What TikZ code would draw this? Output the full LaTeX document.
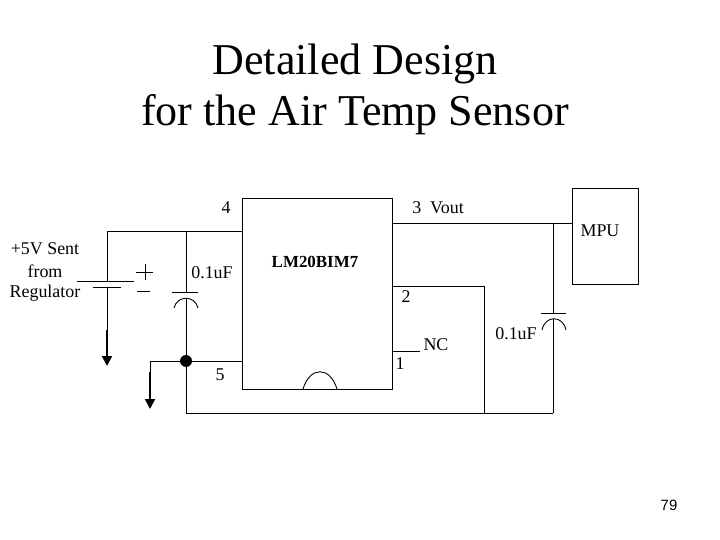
\documentclass[tikz,border=0pt]{standalone}
\usepackage{fontspec}
\setmainfont{Liberation Serif}
\newfontfamily\pagefont{Liberation Sans}
\usetikzlibrary{arrows.meta}
\tikzset{
  lbl/.style={inner sep=0pt,font=\fontsize{18}{20}\selectfont},
  ttl/.style={inner sep=0pt,anchor=base,font=\fontsize{44.2}{50}\selectfont},
  chip/.style={draw,line width=0.9pt,inner sep=0pt},
  wire/.style={line width=0.9pt},
  gnd/.style={line width=2pt,-{Triangle[length=10bp,width=10bp]}}
}
\begin{document}
\begin{tikzpicture}[x=1bp,y=-1bp]
\useasboundingbox (0,0) rectangle (720,540);
\node[ttl] at (355,75) (title1) {Detailed Design};
\node[ttl] at (355,126) (title2) {for the Air Temp Sensor};
\node[chip,minimum width=150bp,minimum height=191bp] at (317.5,293.5) (ic) {};
\node[chip,minimum width=66bp,minimum height=96bp] at (605,236) (mpu) {};
\node[lbl] at (226,208) (p4) {4};
\node[lbl] at (438,208) (p3) {3\ \ Vout};
\node[lbl] at (406,297) (p2) {2};
\node[lbl] at (400,364) (p1) {1};
\node[lbl] at (220,375) (p5) {5};
\node[lbl] at (436,345) (nc) {NC};
\node[lbl] at (600,231) (mpulbl) {MPU};
\node[lbl,font=\fontsize{17}{20}\selectfont\bfseries] at (315,262) (iclbl) {LM20BIM7};
\node[lbl] at (45,249) (src1) {+5V Sent};
\node[lbl] at (45,271) (src2) {from};
\node[lbl] at (45,293) (src3) {Regulator};
\node[lbl] at (212,273) (c1lbl) {0.1uF};
\node[lbl] at (516,334) (c2lbl) {0.1uF};
\node[inner sep=0pt,font=\pagefont\fontsize{15}{17}\selectfont] at (669,505) (pagenum) {79};
\node[circle,fill,inner sep=0pt,minimum size=12bp] at (186,361) (dot) {};
% battery
\coordinate (battop) at (107,231);
\coordinate (batp) at (107,281);
\coordinate (batn) at (107,287);
\coordinate (batthick) at (107,330);
\coordinate (batgnd) at (107,366);
\draw[wire] (batp) -- (battop) -- (battop -| ic.west);
\draw[wire] (77,281) -- (134,281);
\draw[wire] (93,287) -- (121,287);
\draw[wire] (batn) -- (batthick);
\draw[gnd] (batthick) -- (batgnd);
\draw[wire] (136,272) -- (153,272);
\draw[wire] (137,291) -- (150,291);
\draw[wire] (145,264) -- (145,280);
% input cap
\coordinate (c1top) at (186,231);
\coordinate (c1p) at (186,292);
\coordinate (c1n) at (186,298);
\draw[wire] (c1top) -- (c1p);
\draw[wire] (172,292) -- (198,292);
\draw[wire] (174,308) .. controls (177,295) and (195,295) .. (198,308);
\draw[wire] (c1n) -- (dot);
% ground
\coordinate (gndl) at (150,361);
\coordinate (gndthick) at (150,372);
\coordinate (gndend) at (150,409);
\draw[wire] (dot) -- (dot -| ic.west);
\draw[wire] (dot) -- (gndl) -- (gndthick);
\draw[gnd] (gndthick) -- (gndend);
\coordinate (botl) at (186,413);
\coordinate (botm) at (484,413);
\coordinate (botr) at (553,413);
\draw[wire] (dot) -- (botl) -- (botr);
% output side
\coordinate (c2top) at (553,223);
\coordinate (c2p) at (553,313);
\coordinate (c2n) at (553,319);
\draw[wire] (ic.east |- c2top) -- (mpu.west |- c2top);
\draw[wire] (c2top) -- (c2p);
\draw[wire] (541,313) -- (566,313);
\draw[wire] (542,330) .. controls (545,315) and (563,315) .. (566,330);
\draw[wire] (c2n) -- (botr);
\coordinate (pin2) at (484,286);
\draw[wire] (ic.east |- pin2) -- (pin2) -- (botm);
\coordinate (ncend) at (420,351);
\draw[wire] (ic.east |- ncend) -- (ncend);
% notch
\draw[wire] (303,389) .. controls (310,366) and (330,366) .. (337,389);
\end{tikzpicture}
\end{document}
